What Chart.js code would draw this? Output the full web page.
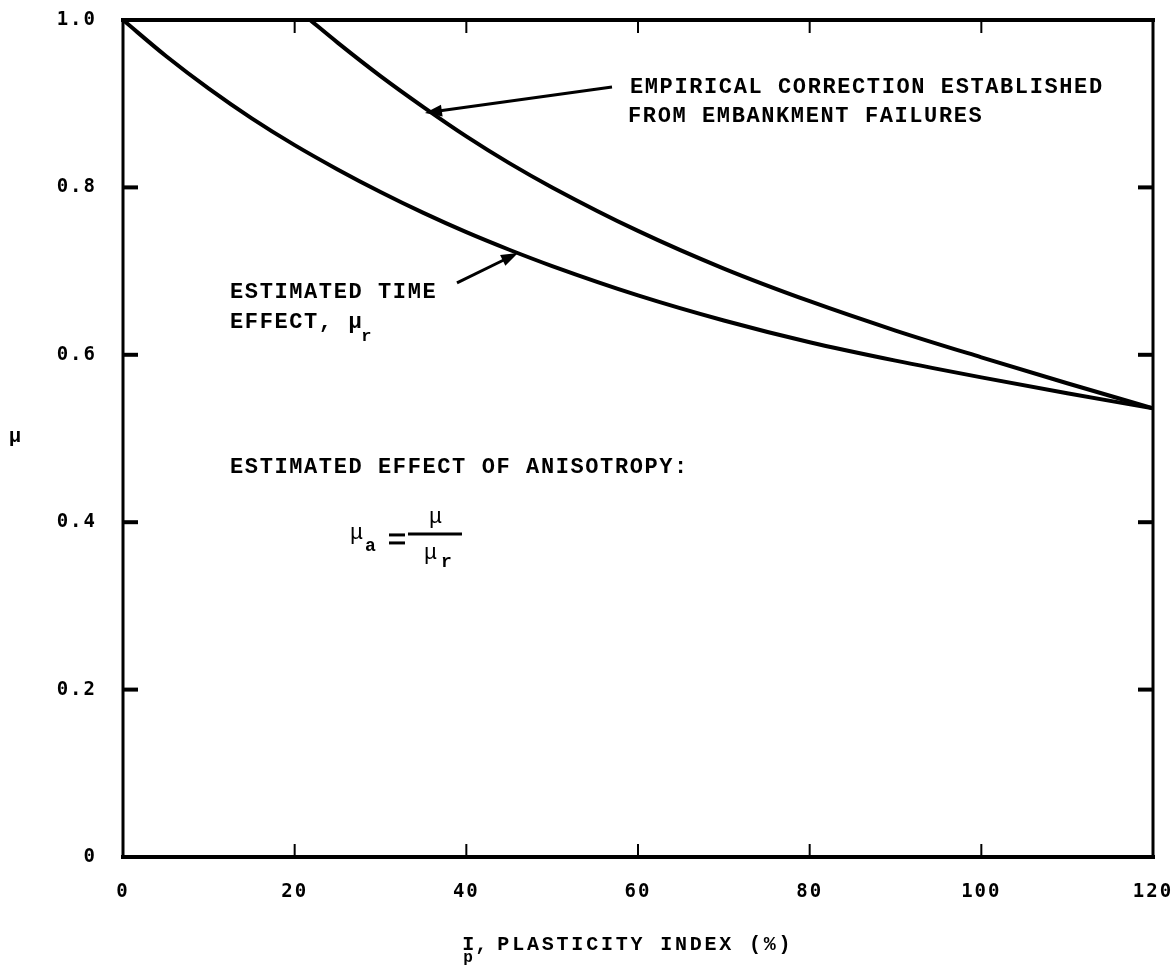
<!DOCTYPE html>
<html><head><meta charset="utf-8">
<script src="https://cdn.jsdelivr.net/npm/chart.js@4/dist/chart.umd.min.js"></script>
<style>html,body{margin:0;padding:0;background:#fff;} #wrap{width:1174px;height:975px;position:relative;}</style>
</head><body><div id="wrap"><canvas id="c" width="1174" height="975"></canvas></div>
<script>
// Data
const timeEffectIp = [0, 5, 10, 15, 20, 25, 30, 35, 40, 45, 50, 60, 70, 80, 90, 100, 110, 120];
const timeEffectMu = [1.0, 0.957, 0.918, 0.8825, 0.8505, 0.8215, 0.7945, 0.7695, 0.7465, 0.7255, 0.706, 0.671, 0.641, 0.615, 0.593, 0.573, 0.554, 0.536];
const empiricalIp = [21.8, 25, 30, 35, 40, 45, 50, 60, 70, 80, 90, 100, 110, 120];
const empiricalMu = [1.0, 0.973, 0.933, 0.896, 0.861, 0.829, 0.800, 0.748, 0.703, 0.664, 0.629, 0.597, 0.566, 0.536];
const xTickValues = [0, 20, 40, 60, 80, 100, 120];
const yTickValues = [0, 0.2, 0.4, 0.6, 0.8, 1.0];
const yTickLabels = ['0', '0.2', '0.4', '0.6', '0.8', '1.0'];

const xTitleMain = 'I';
const xTitleSub = 'p';
const xTitleComma = ',';
const xTitleRest = 'PLASTICITY INDEX (%)';
const yTitle = 'μ';
const empiricalLabel = ['EMPIRICAL CORRECTION ESTABLISHED', 'FROM EMBANKMENT FAILURES'];
const timeLabel = ['ESTIMATED TIME', 'EFFECT, μ'];
const anisoLabel = 'ESTIMATED EFFECT OF ANISOTROPY:';

const toXY = (xs, ys) => xs.map((x, i) => ({x: x, y: ys[i]}));

const ANNO_FONT = 'bold 22px "Liberation Mono", "DejaVu Sans Mono", monospace';

function arrow(ctx, x1, y1, x2, y2) {
  const ang = Math.atan2(y2 - y1, x2 - x1);
  const L = 17, W = 6;
  ctx.lineWidth = 3;
  ctx.beginPath(); ctx.moveTo(x1, y1);
  ctx.lineTo(x2 - Math.cos(ang) * L * 0.8, y2 - Math.sin(ang) * L * 0.8); ctx.stroke();
  ctx.beginPath();
  ctx.moveTo(x2, y2);
  ctx.lineTo(x2 - Math.cos(ang) * L - Math.sin(ang) * W, y2 - Math.sin(ang) * L + Math.cos(ang) * W);
  ctx.lineTo(x2 - Math.cos(ang) * L + Math.sin(ang) * W, y2 - Math.sin(ang) * L - Math.cos(ang) * W);
  ctx.closePath(); ctx.fill();
}

const framePlugin = {
  id: 'frame',
  beforeDraw(chart) {
    chart.ctx.letterSpacing = '2px';
  },
  afterDraw(chart) {
    const ctx = chart.ctx;
    const {left, right, top, bottom} = chart.chartArea;
    const xs = chart.scales.x, ys = chart.scales.y;
    const line = (a, b, c, d) => { ctx.beginPath(); ctx.moveTo(a, b); ctx.lineTo(c, d); ctx.stroke(); };
    ctx.save();
    ctx.strokeStyle = '#000'; ctx.fillStyle = '#000'; ctx.lineCap = 'square';
    ctx.lineWidth = 4; line(left, top, right, top); line(left, bottom, right, bottom);
    ctx.lineWidth = 3; line(left, top, left, bottom); line(right, top, right, bottom);
    ctx.lineCap = 'butt';
    xTickValues.slice(1, -1).forEach(v => {
      const x = xs.getPixelForValue(v);
      ctx.lineWidth = 2; line(x, top, x, top + 13); line(x, bottom, x, bottom - 13);
    });
    yTickValues.slice(1, -1).forEach(v => {
      const y = ys.getPixelForValue(v);
      ctx.lineWidth = 4; line(left, y, left + 15, y); line(right, y, right - 15, y);
    });

    const P = (I, m) => [xs.getPixelForValue(I), ys.getPixelForValue(m)];
    ctx.textBaseline = 'middle'; ctx.textAlign = 'left';
    ctx.font = ANNO_FONT; ctx.letterSpacing = '1.6px';

    // Empirical correction annotation
    let p = P(59.07, 0.919); ctx.fillText(empiricalLabel[0], p[0], p[1]);
    p = P(58.84, 0.885); ctx.fillText(empiricalLabel[1], p[0], p[1]);
    let a = P(56.97, 0.920), b = P(35.18, 0.889);
    arrow(ctx, a[0], a[1], b[0], b[1]);

    // Time effect annotation
    p = P(12.47, 0.675); ctx.fillText(timeLabel[0], p[0], p[1]);
    p = P(12.47, 0.639); ctx.fillText(timeLabel[1], p[0], p[1]);
    const w = ctx.measureText(timeLabel[1]).width;
    ctx.font = 'bold 17px "Liberation Mono", monospace'; ctx.letterSpacing = '0px';
    ctx.fillText('r', p[0] + w - 2, p[1] + 15);
    a = P(38.91, 0.686); b = P(46.02, 0.7216);
    arrow(ctx, a[0], a[1], b[0], b[1]);

    // Anisotropy annotation
    ctx.font = ANNO_FONT; ctx.letterSpacing = '1.6px';
    p = P(12.47, 0.466); ctx.fillText(anisoLabel, p[0], p[1]);
    // formula mu_a = mu / mu_r
    const f = P(27.26, 0.380);
    ctx.letterSpacing = '0px';
    ctx.font = '22px "Liberation Mono", monospace';
    ctx.fillText('μ', f[0] - 7, f[1] - 6);
    ctx.font = 'bold 18px "Liberation Mono", monospace';
    ctx.fillText('a', f[0] + 8, f[1] + 8);
    ctx.lineWidth = 3;
    line(f[0] + 32, f[1] - 4, f[0] + 48, f[1] - 4);
    line(f[0] + 32, f[1] + 4, f[0] + 48, f[1] + 4);
    line(f[0] + 51, f[1] - 5, f[0] + 105, f[1] - 5);
    ctx.font = '22px "Liberation Mono", monospace';
    ctx.fillText('μ', f[0] + 72, f[1] - 22);
    ctx.fillText('μ', f[0] + 67, f[1] + 14);
    ctx.font = 'bold 18px "Liberation Mono", monospace';
    ctx.fillText('r', f[0] + 84, f[1] + 24);

    // Axis titles
    const tx = xs.getPixelForValue(40.0), ty = 945;
    ctx.font = 'bold 20px "Liberation Mono", monospace'; ctx.letterSpacing = '0px';
    ctx.fillText(xTitleMain, tx - 4, ty);
    ctx.font = 'bold 16px "Liberation Mono", monospace';
    ctx.fillText(xTitleSub, tx - 3, ty + 13);
    ctx.font = 'bold 20px "Liberation Mono", monospace';
    ctx.fillText(xTitleComma, tx + 9, ty);
    ctx.letterSpacing = '2.8px';
    ctx.fillText(xTitleRest, tx + 31, ty);
    ctx.letterSpacing = '0px';
    ctx.fillText(yTitle, 9, ys.getPixelForValue(0.502));
    ctx.restore();
  }
};

new Chart(document.getElementById('c').getContext('2d'), {
  type: 'line',
  data: {
    datasets: [
      {label: 'Estimated time effect', data: toXY(timeEffectIp, timeEffectMu), borderColor: '#000', borderWidth: 4, pointRadius: 0, cubicInterpolationMode: 'monotone', fill: false},
      {label: 'Empirical correction', data: toXY(empiricalIp, empiricalMu), borderColor: '#000', borderWidth: 4, pointRadius: 0, cubicInterpolationMode: 'monotone', fill: false}
    ]
  },
  options: {
    responsive: false, animation: false, devicePixelRatio: 1,
    layout: {padding: {left: 0, right: 21, top: 20, bottom: 0}},
    plugins: {legend: {display: false}, tooltip: {enabled: false}},
    scales: {
      x: {
        type: 'linear', min: 0, max: 120,
        afterBuildTicks: s => { s.ticks = xTickValues.map(v => ({value: v})); },
        afterFit: s => { s.height = 118; s.paddingLeft = 0; s.paddingRight = 0; s.paddingTop = 0; s.paddingBottom = 0; },
        grid: {display: false, drawTicks: false}, border: {display: false},
        ticks: {padding: 24, color: '#000', font: {family: '"DejaVu Sans Mono", monospace', size: 19, weight: 'bold'}}
      },
      y: {
        type: 'linear', min: 0, max: 1,
        afterBuildTicks: s => { s.ticks = yTickValues.map(v => ({value: v})); },
        afterFit: s => { s.width = 123; s.paddingLeft = 0; s.paddingRight = 0; s.paddingTop = 0; s.paddingBottom = 0; },
        grid: {display: false, drawTicks: false}, border: {display: false},
        ticks: {padding: 26, color: '#000', font: {family: '"DejaVu Sans Mono", monospace', size: 19, weight: 'bold'},
          callback: (v) => { const i = yTickValues.indexOf(v); return i >= 0 ? yTickLabels[i] : ''; }}
      }
    }
  },
  plugins: [framePlugin]
});
</script></body></html>
